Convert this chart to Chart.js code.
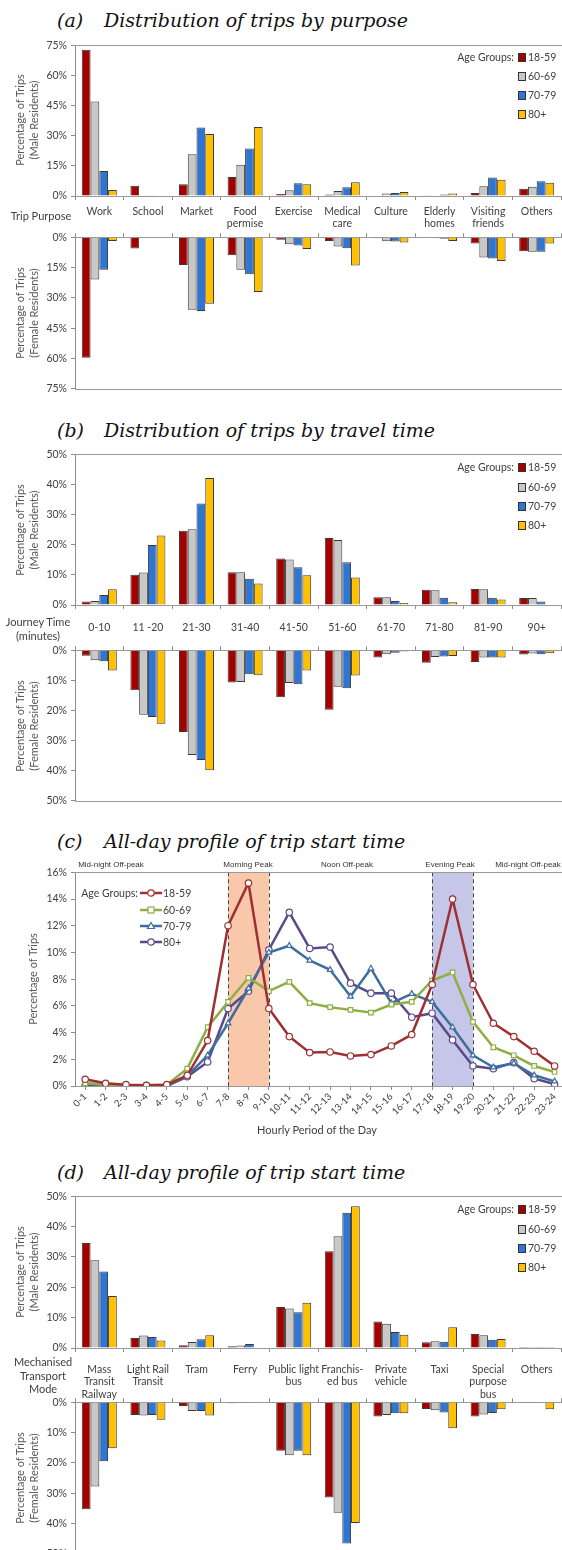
<!DOCTYPE html>
<html>
<head>
<meta charset="utf-8">
<script src="https://cdn.jsdelivr.net/npm/chart.js@4.4.0/dist/chart.umd.min.js"></script>
<style>
  html, body { margin: 0; padding: 0; background: #fff; }
  body { width: 562px; height: 1550px; position: relative; overflow: hidden; font-family: Lato, "Open Sans", sans-serif; color: #404040; }
  canvas { position: absolute; left: 0; }
  .title { position: absolute; font-family: "DejaVu Serif", serif; font-style: italic; font-size: 19px; line-height: 19px; color: #111; white-space: nowrap; }
  .ytitle { position: absolute; transform: rotate(-90deg); text-align: center; font-size: 11px; line-height: 14px; color: #595959; white-space: nowrap; }
  .txt { position: absolute; white-space: nowrap; font-size: 11px; line-height: 14px; }
  .small { position: absolute; white-space: nowrap; font-family: "Liberation Sans", Arial, sans-serif; font-size: 8px; line-height: 10px; color: #333; }
</style>
</head>
<body>
<div class="title" style="left:57px;top:11px">(a)</div>
<div class="title" style="left:104px;top:11px">Distribution of trips by purpose</div>
<div class="title" style="left:57px;top:421px">(b)</div>
<div class="title" style="left:104px;top:421px">Distribution of trips by travel time</div>
<div class="title" style="left:57px;top:832px">(c)</div>
<div class="title" style="left:104px;top:832px">All-day profile of trip start time</div>
<div class="title" style="left:57px;top:1163px">(d)</div>
<div class="title" style="left:104px;top:1163px">All-day profile of trip start time</div>

<canvas id="aTop" width="566" height="197" style="top:35px"></canvas>
<canvas id="aBot" width="566" height="172" style="top:227px"></canvas>
<canvas id="bTop" width="566" height="197" style="top:444px"></canvas>
<canvas id="bBot" width="566" height="171" style="top:640px"></canvas>
<canvas id="cLine" width="570" height="266" style="top:862px"></canvas>
<canvas id="dTop" width="566" height="214" style="top:1186px"></canvas>
<canvas id="dBot" width="566" height="172" style="top:1392px"></canvas>

<div id="overlay"></div>

<script>
const ageGroups = ['18-59', '60-69', '70-79', '80+'];
const barColors = ['#A50000', '#C8C8C8', '#2F76D2', '#FFC000'];
const lineColors = ['#9E3033', '#8FAE45', '#3E6E9E', '#5B4A8A'];
const lineMarkers = ['circle', 'rect', 'triangle', 'circle'];

// (a) trip purpose, rows follow ageGroups
const purposes = ['Work', 'School', 'Market', ['Food', 'permise'], 'Exercise', ['Medical', 'care'], 'Culture', ['Elderly', 'homes'], ['Visiting', 'friends'], 'Others'];
const purposeMale = [
    [72.8, 5.1, 5.8, 9.4, 1.0, 0.7, 0.3, 0.1, 1.5, 3.6],
    [47.0, 0.1, 20.8, 15.5, 2.8, 2.5, 1.2, 0.2, 4.8, 4.6],
    [12.4, 0.1, 34.1, 23.6, 6.3, 4.4, 1.5, 0.7, 9.2, 7.4],
    [3.0, 0.2, 30.8, 34.3, 5.9, 6.8, 2.0, 1.2, 8.1, 6.6]
];
const purposeFemale = [
    [59.7, 5.6, 13.7, 8.9, 1.2, 1.8, 0.5, 0.2, 3.1, 6.9],
    [20.9, 0.2, 35.9, 16.1, 3.5, 4.6, 2.0, 0.3, 10.0, 7.1],
    [16.1, 0.2, 36.5, 18.3, 4.1, 5.4, 2.1, 0.7, 10.5, 7.2],
    [1.8, 0.2, 32.9, 27.1, 5.8, 14.0, 2.6, 1.8, 11.8, 3.1]
];

// (b) journey time
const journeyTimes = ['0-10', '11 -20', '21-30', '31-40', '41-50', '51-60', '61-70', '71-80', '81-90', '90+'];
const journeyMale = [
    [1.2, 10.0, 24.6, 10.9, 15.4, 22.2, 2.6, 5.1, 5.3, 2.3],
    [1.3, 10.8, 25.1, 10.9, 15.1, 21.6, 2.6, 4.9, 5.2, 2.3],
    [3.3, 19.9, 33.7, 8.7, 12.5, 14.2, 1.3, 2.4, 2.4, 1.2],
    [5.2, 23.1, 42.1, 7.1, 9.9, 9.1, 0.7, 0.9, 1.8, 0.2]
];
const journeyFemale = [
    [1.8, 13.3, 27.2, 10.7, 15.6, 19.8, 2.4, 4.1, 3.9, 1.4],
    [3.3, 21.4, 34.8, 10.5, 10.9, 12.1, 1.3, 2.2, 2.4, 1.1],
    [3.6, 22.2, 36.5, 8.0, 11.3, 12.6, 0.8, 2.1, 2.4, 1.3],
    [6.7, 24.4, 39.9, 8.3, 6.7, 8.4, 0.4, 1.9, 2.4, 1.0]
];

// (c) start time by hour
const hours = ['0-1', '1-2', '2-3', '3-4', '4-5', '5-6', '6-7', '7-8', '8-9', '9-10', '10-11', '11-12',
    '12-13', '13-14', '14-15', '15-16', '16-17', '17-18', '18-19', '19-20', '20-21', '21-22', '22-23', '23-24'];
const startTime = [
    [0.5, 0.2, 0.1, 0.05, 0.1, 0.8, 3.4, 12.0, 15.2, 5.8, 3.7, 2.5, 2.55, 2.25, 2.35, 3.0, 3.85, 7.6, 14.0, 7.6, 4.7, 3.7, 2.6, 1.5],
    [0.2, 0.1, 0.05, 0.05, 0.1, 1.3, 4.4, 6.3, 8.1, 7.1, 7.8, 6.2, 5.9, 5.7, 5.5, 6.1, 6.3, 7.9, 8.5, 4.8, 2.9, 2.3, 1.5, 1.05],
    [0.2, 0.1, 0.05, 0.05, 0.05, 0.75, 2.3, 4.7, 7.3, 10.0, 10.5, 9.4, 8.7, 6.7, 8.8, 6.2, 6.9, 6.3, 4.4, 2.3, 1.4, 1.7, 0.8, 0.35],
    [0.05, 0.0, 0.0, 0.0, 0.0, 0.7, 1.8, 5.8, 7.1, 10.2, 13.0, 10.3, 10.4, 7.7, 6.95, 6.95, 5.15, 5.45, 3.45, 1.5, 1.3, 1.75, 0.55, 0.15]
];
const peakBands = [
    { from: '7-8', to: '9-10', color: '#F9C8AB' },
    { from: '17-18', to: '19-20', color: '#C6C7E8' }
];
const periodLabels = ['Mid-night Off-peak', 'Morning Peak', 'Noon Off-peak', 'Evening Peak', 'Mid-night Off-peak'];

// (d) transport mode
const modes = [['Mass', 'Transit', 'Railway'], ['Light Rail', 'Transit'], 'Tram', 'Ferry', ['Public light', 'bus'],
    ['Franchis-', 'ed bus'], ['Private', 'vehicle'], 'Taxi', ['Special', 'purpose', 'bus'], 'Others'];
const modeMale = [
    [34.6, 3.3, 0.9, 0.55, 13.5, 31.9, 8.7, 1.9, 4.6, 0.3],
    [28.9, 4.1, 2.0, 0.8, 13.0, 36.8, 8.0, 2.2, 4.2, 0.3],
    [25.2, 3.6, 2.9, 1.3, 11.8, 44.6, 5.3, 2.1, 2.7, 0.3],
    [17.1, 2.5, 4.2, 0.0, 14.9, 46.7, 4.4, 6.8, 3.0, 0.3]
];
const modeFemale = [
    [35.3, 4.2, 1.2, 0.35, 16.0, 31.4, 4.7, 2.2, 4.7, 0.2],
    [27.8, 4.4, 2.9, 0.2, 17.5, 36.5, 4.2, 2.6, 4.0, 0.2],
    [19.5, 4.2, 2.9, 0.2, 16.0, 46.6, 3.6, 3.4, 3.5, 0.1],
    [15.2, 5.8, 4.4, 0.0, 17.5, 39.9, 3.6, 8.6, 2.3, 2.3]
];

Chart.defaults.font.family = 'Lato';
Chart.defaults.color = '#404040';
Chart.defaults.animation = false;

const axisColor = '#8c8c8c';
const tickFont = { family: 'Lato', size: 10.5 };

// top and bottom border lines of each plot area
const framePlugin = {
    id: 'frame',
    beforeDatasetsDraw(chart) {
        const { ctx, chartArea: a } = chart;
        ctx.save();
        ctx.strokeStyle = '#9a9a9a';
        ctx.lineWidth = 1;
        ctx.beginPath();
        ctx.moveTo(a.left, Math.round(a.top) + 0.5);
        ctx.lineTo(chart.width, Math.round(a.top) + 0.5);
        ctx.moveTo(a.left, Math.round(a.bottom) + 0.5);
        ctx.lineTo(chart.width, Math.round(a.bottom) + 0.5);
        ctx.stroke();
        ctx.restore();
    }
};

function barChart(id, labels, rows, opt) {
    return new Chart(document.getElementById(id), {
        type: 'bar',
        data: {
            labels: labels,
            datasets: rows.map((row, i) => ({
                label: ageGroups[i],
                data: row,
                backgroundColor: barColors[i],
                borderColor: '#3a3a3a',
                borderWidth: 1,
                categoryPercentage: 0.72,
                barPercentage: 1
            }))
        },
        options: {
            responsive: false,
            layout: { padding: opt.padding },
            plugins: { legend: { display: false }, tooltip: { enabled: false } },
            scales: {
                x: {
                    position: opt.xPos,
                    grid: { offset: true, drawOnChartArea: false, tickLength: 4, color: axisColor },
                    border: { color: axisColor },
                    ticks: { display: opt.showLabels, autoSkip: false, maxRotation: 0, padding: opt.labelPad || 0, font: tickFont },
                    afterFit: s => { s.height = opt.xHeight; }
                },
                y: {
                    reverse: opt.reverse,
                    min: 0,
                    max: opt.max,
                    ticks: { stepSize: opt.step, padding: 4, font: tickFont, callback: v => v + '%' },
                    grid: { drawOnChartArea: false, tickLength: 4, color: axisColor },
                    border: { color: axisColor },
                    afterFit: s => { s.width = 75; }
                }
            }
        },
        plugins: [framePlugin]
    });
}

const topPad = { top: 10, right: 5, left: 0, bottom: 0 };
const botPad = { top: 4, right: 5, left: 0, bottom: 10 };

barChart('aTop', purposes, purposeMale, { padding: topPad, xPos: 'bottom', showLabels: true, labelPad: 5, xHeight: 36, max: 75, step: 15 });
barChart('aBot', purposes, purposeFemale, { padding: botPad, xPos: 'top', showLabels: false, xHeight: 6, max: 75, step: 15, reverse: true });
barChart('bTop', journeyTimes, journeyMale, { padding: topPad, xPos: 'bottom', showLabels: true, labelPad: 12, xHeight: 36, max: 50, step: 10 });
barChart('bBot', journeyTimes, journeyFemale, { padding: botPad, xPos: 'top', showLabels: false, xHeight: 6, max: 50, step: 10, reverse: true });
barChart('dTop', modes, modeMale, { padding: topPad, xPos: 'bottom', showLabels: true, labelPad: 11, xHeight: 52, max: 50, step: 10 });
barChart('dBot', modes, modeFemale, { padding: botPad, xPos: 'top', showLabels: false, xHeight: 6, max: 50, step: 10, reverse: true });

// shaded peak periods with dashed edges
const peakPlugin = {
    id: 'peaks',
    beforeDraw(chart) {
        const { ctx, chartArea: a, scales: { x } } = chart;
        ctx.save();
        peakBands.forEach(b => {
            const x1 = x.getPixelForValue(hours.indexOf(b.from));
            const x2 = x.getPixelForValue(hours.indexOf(b.to));
            ctx.fillStyle = b.color;
            ctx.fillRect(x1, a.top, x2 - x1, a.bottom - a.top);
            ctx.strokeStyle = '#444';
            ctx.lineWidth = 1;
            ctx.setLineDash([4, 3]);
            ctx.beginPath();
            [x1, x2].forEach(px => {
                ctx.moveTo(Math.round(px) + 0.5, a.top);
                ctx.lineTo(Math.round(px) + 0.5, a.bottom);
            });
            ctx.stroke();
        });
        ctx.restore();
    }
};

new Chart(document.getElementById('cLine'), {
    type: 'line',
    data: {
        labels: hours,
        datasets: startTime.map((row, i) => ({
            label: ageGroups[i],
            data: row,
            borderColor: lineColors[i],
            borderWidth: 2.5,
            pointStyle: lineMarkers[i],
            pointRadius: 3.2,
            pointBorderWidth: 1.2,
            pointBackgroundColor: '#fff',
            pointBorderColor: lineColors[i],
            tension: 0
        }))
    },
    options: {
        responsive: false,
        layout: { padding: { top: 10, right: 5, left: 0, bottom: 0 } },
        plugins: { legend: { display: false }, tooltip: { enabled: false } },
        scales: {
            x: {
                offset: true,
                grid: { offset: false, drawOnChartArea: false, tickLength: 4, color: axisColor },
                border: { color: axisColor },
                ticks: { autoSkip: false, minRotation: 45, maxRotation: 45, padding: 1, font: { family: 'Lato', size: 9.5 } },
                afterFit: s => { s.height = 42; }
            },
            y: {
                min: 0,
                max: 16,
                ticks: { stepSize: 2, padding: 4, font: tickFont, callback: v => v + '%' },
                grid: { drawOnChartArea: false, tickLength: 4, color: axisColor },
                border: { color: axisColor },
                afterFit: s => { s.width = 75; }
            }
        }
    },
    plugins: [peakPlugin, framePlugin]
});

// text overlays: axis titles, row labels, legends
const overlay = document.getElementById('overlay');
function addDiv(cls, html, style) {
    const d = document.createElement('div');
    d.className = cls;
    d.innerHTML = html;
    Object.assign(d.style, style);
    overlay.appendChild(d);
    return d;
}
function yTitle(lines, cx, cy) {
    const w = 160, h = lines.length * 14;
    addDiv('ytitle', lines.join('<br>'), { left: (cx - w / 2) + 'px', top: (cy - h / 2) + 'px', width: w + 'px', height: h + 'px' });
}
function rowLabel(lines, cx, firstY) {
    addDiv('txt', lines.join('<br>'), { left: (cx - 40) + 'px', width: '80px', textAlign: 'center', top: (firstY - 7) + 'px', lineHeight: '13.6px' });
}
function barLegend(rowYs) {
    addDiv('txt', 'Age Groups:', { left: '414px', width: '100px', textAlign: 'right', top: (rowYs[0] - 7) + 'px', fontSize: '10.5px' });
    ageGroups.forEach((g, i) => {
        addDiv('txt', '', { left: '518px', top: (rowYs[i] - 4) + 'px', width: '6px', height: '7px', background: barColors[i], border: '1px solid #333' });
        addDiv('txt', g, { left: '528px', top: (rowYs[i] - 7) + 'px', fontSize: '10.5px' });
    });
}
function lineIcon(i) {
    const c = lineColors[i];
    let mark;
    if (lineMarkers[i] === 'rect') mark = `<rect x="8" y="2" width="6" height="6" fill="#fff" stroke="${c}" stroke-width="1.2"/>`;
    else if (lineMarkers[i] === 'triangle') mark = `<polygon points="11,1.5 14.5,7.5 7.5,7.5" fill="#fff" stroke="${c}" stroke-width="1.2"/>`;
    else mark = `<circle cx="11" cy="5" r="3.2" fill="#fff" stroke="${c}" stroke-width="1.2"/>`;
    return `<svg width="22" height="10" style="display:block"><line x1="0" y1="5" x2="22" y2="5" stroke="${c}" stroke-width="2.5"/>${mark}</svg>`;
}

yTitle(['Percentage of Trips', '(Male Residents)'], 27, 120);
yTitle(['Percentage of Trips', '(Female Residents)'], 27, 313);
yTitle(['Percentage of Trips', '(Male Residents)'], 27, 530);
yTitle(['Percentage of Trips', '(Female Residents)'], 27, 726);
yTitle(['Percentage of Trips'], 33, 979);
yTitle(['Percentage of Trips', '(Male Residents)'], 27, 1272);
yTitle(['Percentage of Trips', '(Female Residents)'], 27, 1478);

rowLabel(['Trip Purpose'], 41, 216);
rowLabel(['Journey Time', '(minutes)'], 38, 622);
rowLabel(['Mechanised', 'Transport', 'Mode'], 43, 1362);

barLegend([57, 76, 95, 114]);
barLegend([467, 487, 506, 525]);
barLegend([1209, 1229, 1248, 1267]);

// (c) legend
addDiv('txt', 'Age Groups:', { left: '38px', width: '100px', textAlign: 'right', top: '886px', fontSize: '10.5px' });
[893, 910, 926, 942].forEach((y, i) => {
    const d = addDiv('txt', lineIcon(i), { left: '140px', top: (y - 5) + 'px' });
    addDiv('txt', ageGroups[i], { left: '163px', top: (y - 7) + 'px', fontSize: '10.5px' });
});

// (c) period labels above plot and x title
const periodCenters = [111, 248, 347, 450, 528];
periodLabels.forEach((t, i) => {
    addDiv('small', t, { left: (periodCenters[i] - 50) + 'px', width: '100px', textAlign: 'center', top: '860px' });
});
addDiv('txt', 'Hourly Period of the Day', { left: '217px', width: '200px', textAlign: 'center', top: '1123px' });
</script>
</body>
</html>
